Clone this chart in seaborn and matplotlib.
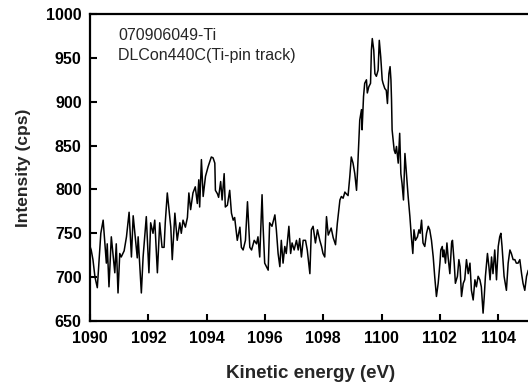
import matplotlib
matplotlib.use("Agg")
import matplotlib.pyplot as plt
import seaborn as sns
import pandas as pd

energy = [
    1090.00, 1090.04, 1090.10, 1090.17, 1090.25, 1090.31, 1090.37, 1090.45, 1090.56, 1090.59,
    1090.65, 1090.73, 1090.85, 1090.90, 1090.96, 1091.02, 1091.07, 1091.17, 1091.25, 1091.34,
    1091.42, 1091.48, 1091.55, 1091.62, 1091.65, 1091.76, 1091.82, 1091.93, 1092.02, 1092.08,
    1092.16, 1092.22, 1092.31, 1092.39, 1092.47, 1092.54, 1092.58, 1092.65, 1092.70, 1092.77,
    1092.82, 1092.91, 1092.99, 1093.08, 1093.13, 1093.19, 1093.27, 1093.34, 1093.39, 1093.45,
    1093.53, 1093.61, 1093.68, 1093.73, 1093.76, 1093.82, 1093.88, 1093.96, 1094.05, 1094.16,
    1094.22, 1094.28, 1094.30, 1094.37, 1094.41, 1094.48, 1094.53, 1094.60, 1094.64, 1094.71,
    1094.79, 1094.85, 1094.91, 1094.96, 1095.05, 1095.14, 1095.19, 1095.25, 1095.33, 1095.40,
    1095.48, 1095.54, 1095.63, 1095.71, 1095.76, 1095.82, 1095.90, 1095.93, 1095.99, 1096.05,
    1096.11, 1096.16, 1096.24, 1096.34, 1096.39, 1096.45, 1096.51, 1096.56, 1096.62, 1096.68,
    1096.73, 1096.82, 1096.88, 1096.93, 1097.00, 1097.08, 1097.14, 1097.19, 1097.25, 1097.31,
    1097.39, 1097.45, 1097.54, 1097.59, 1097.65, 1097.73, 1097.80, 1097.88, 1097.94, 1097.99,
    1098.05, 1098.11, 1098.17, 1098.22, 1098.27, 1098.34, 1098.42, 1098.48, 1098.57, 1098.62,
    1098.68, 1098.74, 1098.79, 1098.85, 1098.91, 1098.96, 1099.02, 1099.08, 1099.14, 1099.17,
    1099.22, 1099.25, 1099.31, 1099.33, 1099.38, 1099.42, 1099.48, 1099.51, 1099.56, 1099.62,
    1099.65, 1099.68, 1099.73, 1099.77, 1099.82, 1099.88, 1099.92, 1099.97, 1100.02, 1100.05,
    1100.11, 1100.16, 1100.20, 1100.25, 1100.29, 1100.32, 1100.34, 1100.36, 1100.43, 1100.47,
    1100.51, 1100.57, 1100.62, 1100.66, 1100.70, 1100.75, 1100.80, 1100.85, 1100.91, 1100.97,
    1101.02, 1101.07, 1101.11, 1101.16, 1101.23, 1101.28, 1101.32, 1101.37, 1101.42, 1101.48,
    1101.54, 1101.60, 1101.65, 1101.71, 1101.77, 1101.82, 1101.88, 1101.94, 1102.00, 1102.03,
    1102.08, 1102.11, 1102.14, 1102.19, 1102.24, 1102.28, 1102.34, 1102.40, 1102.43, 1102.49,
    1102.53, 1102.60, 1102.65, 1102.69, 1102.74, 1102.80, 1102.85, 1102.91, 1102.97, 1103.03,
    1103.08, 1103.14, 1103.20, 1103.25, 1103.31, 1103.37, 1103.42, 1103.48, 1103.52, 1103.56,
    1103.63, 1103.68, 1103.72, 1103.77, 1103.82, 1103.88, 1103.94, 1104.00, 1104.05, 1104.09,
    1104.13, 1104.20, 1104.28, 1104.34, 1104.40, 1104.45, 1104.51, 1104.57, 1104.62, 1104.68,
    1104.74, 1104.80, 1104.85, 1104.91, 1104.97, 1105.03,
]

intensity = [
    735, 731, 720, 700, 688, 720, 750, 765, 716, 738,
    689, 746, 705, 738, 682, 727, 723, 730, 746, 774,
    723, 770, 746, 722, 746, 682, 723, 769, 705, 762,
    750, 765, 705, 762, 734, 734, 762, 796, 780, 757,
    720, 773, 742, 762, 750, 765, 757, 768, 796, 777,
    796, 803, 784, 811, 780, 834, 792, 815, 826, 837,
    836, 830, 799, 795, 791, 809, 788, 818, 780, 782,
    799, 773, 765, 768, 742, 757, 734, 731, 742, 786,
    734, 731, 742, 738, 746, 723, 794, 762, 716, 712,
    708, 762, 758, 771, 754, 727, 712, 742, 716, 735,
    727, 758, 727, 739, 731, 742, 731, 744, 723, 742,
    742, 731, 704, 754, 758, 739, 754, 742, 735, 727,
    723, 769, 748, 752, 756, 745, 737, 761, 788, 792,
    790, 797, 795, 793, 815, 837, 830, 818, 799, 818,
    856, 879, 891, 868, 906, 921, 925, 910, 917, 921,
    959, 972, 959, 932, 929, 936, 970, 951, 925, 921,
    915, 913, 898, 932, 940, 925, 902, 868, 845, 841,
    849, 830, 864, 818, 807, 788, 841, 818, 792, 769,
    746, 727, 754, 742, 746, 754, 750, 765, 739, 735,
    750, 758, 754, 742, 723, 701, 678, 693, 716, 731,
    735, 723, 731, 716, 739, 723, 704, 739, 742, 716,
    693, 701, 720, 712, 678, 693, 697, 720, 704, 716,
    685, 674, 697, 689, 701, 697, 689, 659, 678, 701,
    727, 712, 697, 723, 704, 731, 697, 735, 746, 750,
    735, 701, 685, 716, 731, 727, 720, 720, 716, 716,
    720, 704, 693, 685, 701, 708,
]

x_ticks = [1090, 1092, 1094, 1096, 1098, 1100, 1102, 1104]
y_ticks = [650, 700, 750, 800, 850, 900, 950, 1000]
sample_lines = ["070906049-Ti", "DLCon440C(Ti-pin track)"]

sns.set_theme(style="ticks")
plt.rcParams["font.family"] = ["Liberation Sans", "DejaVu Sans"]

df = pd.DataFrame({"energy": energy, "intensity": intensity})

fig = plt.figure(figsize=(5.28, 3.84), dpi=100)
ax = fig.add_axes([0.1705, 0.164, 0.835, 0.7995])
sns.lineplot(data=df, x="energy", y="intensity", color="black", lw=1.1,
             estimator=None, sort=False, ax=ax)

ax.set_xlim(1090, 1105.12)
ax.set_ylim(650, 1000)
ax.set_xticks(x_ticks)
ax.set_yticks(y_ticks)
ax.set_xticklabels([str(t) for t in x_ticks], fontweight="bold", fontsize=11.5)
ax.set_yticklabels([str(t) for t in y_ticks], fontweight="bold", fontsize=11.5)
ax.tick_params(axis="x", direction="in", length=5, width=1.5, pad=7, colors="black")
ax.tick_params(axis="y", direction="in", length=5, width=1.5, pad=6, colors="black")
for s in ax.spines.values():
    s.set_linewidth(1.6)
    s.set_color("black")

ax.set_xlabel("Kinetic energy (eV)", fontweight="bold", fontsize=13.5, labelpad=14)
ax.set_ylabel("Intensity (cps)", fontweight="bold", fontsize=12.5, labelpad=11)

ax.text(0.064, 0.955, "\n".join(sample_lines), transform=ax.transAxes,
        fontsize=11.5, va="top", ha="left", linespacing=1.4)

fig.savefig("out.png", dpi=100)
